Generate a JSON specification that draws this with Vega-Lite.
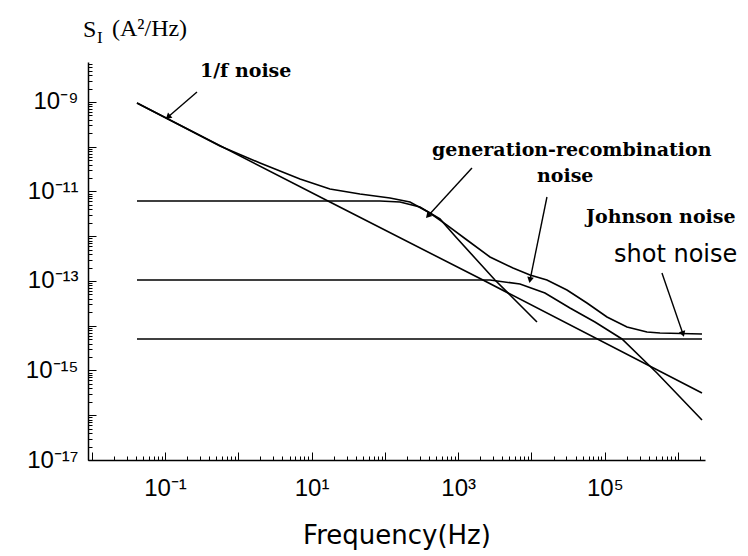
{
  "$schema": "https://vega.github.io/schema/vega-lite/v6.json",
  "width": 617,
  "height": 398,
  "autosize": {"type": "none"},
  "padding": {"left": 88, "top": 62, "right": 43, "bottom": 96},
  "background": "white",
  "config": {"view": {"stroke": null}},
  "datasets": {
    "curves": [
      {"s": "1/f", "f": 0.0415, "S": 9.5e-10},
      {"s": "1/f", "f": 17.8, "S": 5.82e-12},
      {"s": "1/f", "f": 2178, "S": 1.05e-13},
      {"s": "1/f", "f": 2120000, "S": 3.14e-16},
      {"s": "gr1", "f": 0.0415, "S": 6.14e-12},
      {"s": "gr1", "f": 85.7, "S": 6.14e-12},
      {"s": "gr1", "f": 160.7, "S": 5.82e-12},
      {"s": "gr1", "f": 301, "S": 4.51e-12},
      {"s": "gr1", "f": 565, "S": 2.43e-12},
      {"s": "gr1", "f": 904, "S": 1.01e-12},
      {"s": "gr1", "f": 1694, "S": 3.27e-13},
      {"s": "gr1", "f": 3177, "S": 1.05e-13},
      {"s": "gr1", "f": 5093, "S": 4.87e-14},
      {"s": "gr1", "f": 11885, "S": 1.21e-14},
      {"s": "gr2", "f": 0.0415, "S": 1.05e-13},
      {"s": "gr2", "f": 2716, "S": 1.05e-13},
      {"s": "gr2", "f": 6966, "S": 8.57e-14},
      {"s": "gr2", "f": 15276, "S": 5.39e-14},
      {"s": "gr2", "f": 33497, "S": 2.49e-14},
      {"s": "gr2", "f": 73450, "S": 1.21e-14},
      {"s": "gr2", "f": 171700, "S": 5.06e-15},
      {"s": "gr2", "f": 515200, "S": 8.79e-16},
      {"s": "gr2", "f": 2120000, "S": 7.83e-17},
      {"s": "white", "f": 0.0415, "S": 5.06e-15},
      {"s": "white", "f": 2120000, "S": 5.06e-15},
      {"s": "total", "f": 0.0415, "S": 9.5e-10},
      {"s": "total", "f": 0.562, "S": 1.04e-10},
      {"s": "total", "f": 1.98, "S": 4.34e-11},
      {"s": "total", "f": 6.95, "S": 1.9e-11},
      {"s": "total", "f": 17.8, "S": 1.14e-11},
      {"s": "total", "f": 45.7, "S": 8.79e-12},
      {"s": "total", "f": 117.5, "S": 7.16e-12},
      {"s": "total", "f": 220, "S": 5.82e-12},
      {"s": "total", "f": 412, "S": 3.31e-12},
      {"s": "total", "f": 703, "S": 1.78e-12},
      {"s": "total", "f": 1318, "S": 8.24e-13},
      {"s": "total", "f": 2716, "S": 3.44e-13},
      {"s": "total", "f": 5598, "S": 1.95e-13},
      {"s": "total", "f": 9550, "S": 1.36e-13},
      {"s": "total", "f": 16260, "S": 1.05e-13},
      {"s": "total", "f": 30480, "S": 6.29e-14},
      {"s": "total", "f": 57150, "S": 3.22e-14},
      {"s": "total", "f": 107200, "S": 1.57e-14},
      {"s": "total", "f": 201000, "S": 9.38e-15},
      {"s": "total", "f": 376700, "S": 7.25e-15},
      {"s": "total", "f": 566600, "S": 6.89e-15},
      {"s": "total", "f": 2120000, "S": 6.54e-15}
    ],
    "arrows": [
      {"id": "a1", "f": 0.2735, "S": 1.67e-9, "f2": 0.11, "S2": 4.62e-10},
      {"id": "a2", "f": 1542, "S": 3.35e-11, "f2": 387, "S2": 2.84e-12},
      {"id": "a3", "f": 16260, "S": 7.53e-12, "f2": 9550, "S2": 1.05e-13},
      {"id": "a4", "f": 602600, "S": 1.51e-13, "f2": 1167000, "S2": 6.54e-15}
    ],
    "serifLabels": [
      {"t": "1/f noise", "f": 0.3, "S": 4.93e-9},
      {"t": "generation-recombination", "f": 440, "S": 8.45e-11},
      {"t": "noise", "f": 11885, "S": 2.22e-11},
      {"t": "Johnson noise", "f": 55460, "S": 2.69e-12}
    ],
    "sansLabels": [
      {"t": "shot noise", "f": 133700, "S": 3.81e-13}
    ],
    "titleMain": [
      {"t": "S", "f": 0.0076, "S": 4.07e-8},
      {"t": "(A²/Hz)", "f": 0.0189, "S": 4.28e-8}
    ],
    "titleSub": [
      {"t": "I", "f": 0.0118, "S": 2.75e-8}
    ]
  },
  "layer": [
    {
      "data": {"name": "curves"},
      "mark": {"type": "line", "color": "black", "strokeWidth": 1.6},
      "encoding": {
        "x": {
          "field": "f", "type": "quantitative",
          "scale": {"type": "log", "domain": [0.00891, 2330000], "nice": false},
          "axis": {
            "values": [0.009, 0.01, 0.02, 0.03, 0.04, 0.05, 0.06, 0.07, 0.08, 0.09, 0.1, 0.2, 0.3, 0.4, 0.5, 0.6, 0.7, 0.8, 0.9, 1, 2, 3, 4, 5, 6, 7, 8, 9, 10, 20, 30, 40, 50, 60, 70, 80, 90, 100, 200, 300, 400, 500, 600, 700, 800, 900, 1000, 2000, 3000, 4000, 5000, 6000, 7000, 8000, 9000, 10000, 20000, 30000, 40000, 50000, 60000, 70000, 80000, 90000, 100000, 200000, 300000, 400000, 500000, 600000, 700000, 800000, 900000, 1000000, 2000000],
            "labelExpr": "abs(log(datum.value)/LN10 - round(log(datum.value)/LN10)) > 0.001 ? '' : (round(log(datum.value)/LN10) == -1 ? '10⁻¹' : round(log(datum.value)/LN10) == 1 ? '10¹' : round(log(datum.value)/LN10) == 3 ? '10³' : round(log(datum.value)/LN10) == 5 ? '10⁵' : '')",
            "tickSize": {"condition": {"test": "abs(log(datum.value)/LN10 - round(log(datum.value)/LN10)) < 0.001", "value": -8}, "value": -4},
            "tickColor": "black",
            "tickWidth": 1,
            "domainColor": "black",
            "domainWidth": 1.5,
            "labelFont": "Liberation Sans",
            "labelFontSize": 24,
            "labelColor": "black",
            "labelPadding": 24,
            "labelOverlap": false,
            "labelFlush": false,
            "labelBound": false,
            "grid": false,
            "title": "Frequency(Hz)",
            "titleFont": "DejaVu Sans",
            "titleFontSize": 26,
            "titleFontWeight": "normal",
            "titleColor": "black",
            "titleBaseline": "middle",
            "titleY": 75
          }
        },
        "y": {
          "field": "S", "type": "quantitative",
          "scale": {"type": "log", "domain": [1e-17, 7.83e-9], "nice": false},
          "axis": {
            "values": [1e-17, 2e-17, 3e-17, 4e-17, 5e-17, 6e-17, 7e-17, 8e-17, 9e-17, 1e-16, 2e-16, 3e-16, 4e-16, 5e-16, 6e-16, 7e-16, 8e-16, 9e-16, 1e-15, 2e-15, 3e-15, 4e-15, 5e-15, 6e-15, 7e-15, 8e-15, 9e-15, 1e-14, 2e-14, 3e-14, 4e-14, 5e-14, 6e-14, 7e-14, 8e-14, 9e-14, 1e-13, 2e-13, 3e-13, 4e-13, 5e-13, 6e-13, 7e-13, 8e-13, 9e-13, 1e-12, 2e-12, 3e-12, 4e-12, 5e-12, 6e-12, 7e-12, 8e-12, 9e-12, 1e-11, 2e-11, 3e-11, 4e-11, 5e-11, 6e-11, 7e-11, 8e-11, 9e-11, 1e-10, 2e-10, 3e-10, 4e-10, 5e-10, 6e-10, 7e-10, 8e-10, 9e-10, 1e-9, 2e-9, 3e-9, 4e-9, 5e-9, 6e-9, 7e-9],
            "labelExpr": "abs(log(datum.value)/LN10 - round(log(datum.value)/LN10)) > 0.001 ? '' : (round(log(datum.value)/LN10) == -9 ? '10⁻⁹' : round(log(datum.value)/LN10) == -11 ? '10⁻¹¹' : round(log(datum.value)/LN10) == -13 ? '10⁻¹³' : round(log(datum.value)/LN10) == -15 ? '10⁻¹⁵' : round(log(datum.value)/LN10) == -17 ? '10⁻¹⁷' : '')",
            "tickSize": {"condition": {"test": "abs(log(datum.value)/LN10 - round(log(datum.value)/LN10)) < 0.001", "value": -8}, "value": -4},
            "tickColor": "black",
            "tickWidth": 1,
            "domainColor": "black",
            "domainWidth": 1.5,
            "labelFont": "Liberation Sans",
            "labelFontSize": 24,
            "labelColor": "black",
            "labelPadding": 18,
            "labelOverlap": false,
            "labelFlush": false,
            "labelBound": false,
            "grid": false,
            "title": null
          }
        },
        "detail": {"field": "s", "type": "nominal"}
      }
    },
    {
      "data": {"name": "arrows"},
      "mark": {"type": "rule", "color": "black", "strokeWidth": 1.4},
      "encoding": {
        "x": {"field": "f", "type": "quantitative"},
        "y": {"field": "S", "type": "quantitative"},
        "x2": {"field": "f2"},
        "y2": {"field": "S2"}
      }
    },
    {
      "data": {"name": "arrows"},
      "transform": [{"filter": "datum.id == 'a1'"}],
      "mark": {"type": "point", "shape": "triangle-up", "filled": true, "color": "black", "size": 45, "angle": 229, "opacity": 1},
      "encoding": {"x": {"field": "f2", "type": "quantitative"}, "y": {"field": "S2", "type": "quantitative"}}
    },
    {
      "data": {"name": "arrows"},
      "transform": [{"filter": "datum.id == 'a2'"}],
      "mark": {"type": "point", "shape": "triangle-up", "filled": true, "color": "black", "size": 45, "angle": 222, "opacity": 1},
      "encoding": {"x": {"field": "f2", "type": "quantitative"}, "y": {"field": "S2", "type": "quantitative"}}
    },
    {
      "data": {"name": "arrows"},
      "transform": [{"filter": "datum.id == 'a3'"}],
      "mark": {"type": "point", "shape": "triangle-up", "filled": true, "color": "black", "size": 45, "angle": 191, "opacity": 1},
      "encoding": {"x": {"field": "f2", "type": "quantitative"}, "y": {"field": "S2", "type": "quantitative"}}
    },
    {
      "data": {"name": "arrows"},
      "transform": [{"filter": "datum.id == 'a4'"}],
      "mark": {"type": "point", "shape": "triangle-up", "filled": true, "color": "black", "size": 45, "angle": 161, "opacity": 1},
      "encoding": {"x": {"field": "f2", "type": "quantitative"}, "y": {"field": "S2", "type": "quantitative"}}
    },
    {
      "data": {"name": "serifLabels"},
      "mark": {"type": "text", "font": "DejaVu Serif", "fontWeight": "bold", "fontSize": 19, "align": "left", "baseline": "middle", "color": "black"},
      "encoding": {"x": {"field": "f", "type": "quantitative"}, "y": {"field": "S", "type": "quantitative"}, "text": {"field": "t"}}
    },
    {
      "data": {"name": "sansLabels"},
      "mark": {"type": "text", "font": "DejaVu Sans", "fontSize": 24, "align": "left", "baseline": "middle", "color": "black"},
      "encoding": {"x": {"field": "f", "type": "quantitative"}, "y": {"field": "S", "type": "quantitative"}, "text": {"field": "t"}}
    },
    {
      "data": {"name": "titleMain"},
      "mark": {"type": "text", "font": "Liberation Serif", "fontSize": 24, "align": "left", "baseline": "middle", "color": "black"},
      "encoding": {"x": {"field": "f", "type": "quantitative"}, "y": {"field": "S", "type": "quantitative"}, "text": {"field": "t"}}
    },
    {
      "data": {"name": "titleSub"},
      "mark": {"type": "text", "font": "Liberation Serif", "fontSize": 17, "align": "left", "baseline": "middle", "color": "black"},
      "encoding": {"x": {"field": "f", "type": "quantitative"}, "y": {"field": "S", "type": "quantitative"}, "text": {"field": "t"}}
    }
  ]
}
